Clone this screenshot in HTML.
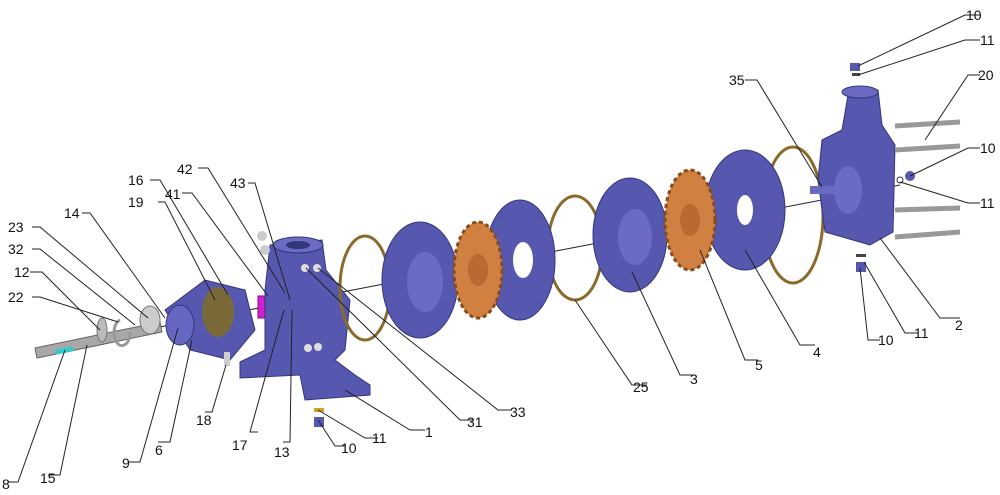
<!DOCTYPE html>
<html><head><style>
html,body{margin:0;padding:0;background:#fff;width:1000px;height:495px;overflow:hidden}
svg text{font-family:"Liberation Sans",sans-serif;font-size:14px;fill:#111}
</style></head><body>
<svg width="1000" height="495" viewBox="0 0 1000 495" xmlns="http://www.w3.org/2000/svg">
<line x1="40" y1="350" x2="900" y2="185" stroke="#222" stroke-width="1"/>
<polygon points="35,348 160,322 162,332 37,358" fill="#a8a8a8" stroke="#666"/>
<rect x="55" y="348" width="18" height="5" fill="#3cc" transform="rotate(-11 64 350)"/>
<ellipse cx="102" cy="330" rx="5" ry="12" fill="#bbb" stroke="#777"/>
<path d="M120,320 a8,13 0 1,0 10,12" fill="none" stroke="#999" stroke-width="3"/>
<ellipse cx="150" cy="320" rx="10" ry="14" fill="#ccc" stroke="#777"/>
<path d="M165,310 L205,280 L245,290 L255,330 L230,360 L190,350 Z" fill="#5658b0" stroke="#33367a"/>
<ellipse cx="180" cy="325" rx="14" ry="20" fill="#6466c0" stroke="#33367a"/>
<ellipse cx="218" cy="312" rx="16" ry="25" fill="#7a6a3a"/>
<rect x="224" y="352" width="6" height="14" fill="#ccc"/>
<rect x="258" y="296" width="22" height="22" fill="#d020d0" stroke="#900090"/>
<path d="M270,245 L322,240 L326,270 L350,300 L345,350 L335,360 L355,375 L370,385 L370,395 L305,400 L300,375 L240,378 L240,362 L265,350 L265,290 Z" fill="#5658b0" stroke="#33367a"/>
<ellipse cx="298" cy="245" rx="25" ry="8" fill="#6a6cc4" stroke="#33367a"/>
<ellipse cx="298" cy="245" rx="12" ry="4" fill="#33367a"/>
<circle cx="305" cy="268" r="4" fill="#ddd"/><circle cx="317" cy="268" r="4" fill="#ddd"/>
<circle cx="308" cy="348" r="4" fill="#ddd"/><circle cx="318" cy="347" r="4" fill="#ddd"/>
<circle cx="262" cy="236" r="5" fill="#ccc"/><circle cx="265" cy="250" r="5" fill="#ccc"/>
<rect x="314" y="408" width="10" height="4" fill="#d8a020"/>
<rect x="314" y="417" width="10" height="10" fill="#5658b0"/>
<ellipse cx="365" cy="288" rx="25" ry="52" fill="none" stroke="#8a6a2a" stroke-width="3"/>
<ellipse cx="575" cy="248" rx="27" ry="52" fill="none" stroke="#8a6a2a" stroke-width="3"/>
<ellipse cx="793" cy="215" rx="30" ry="68" fill="none" stroke="#8a6a2a" stroke-width="3"/>
<ellipse cx="420" cy="280" rx="38" ry="58" fill="#5658b0" stroke="#33367a"/>
<ellipse cx="425" cy="282" rx="18" ry="30" fill="#6a6cc4"/>
<ellipse cx="520" cy="260" rx="35" ry="60" fill="#5658b0" stroke="#33367a"/>
<ellipse cx="523" cy="260" rx="10" ry="18" fill="#fff"/>
<ellipse cx="630" cy="235" rx="37" ry="57" fill="#5658b0" stroke="#33367a"/>
<ellipse cx="635" cy="237" rx="17" ry="28" fill="#6a6cc4"/>
<ellipse cx="745" cy="210" rx="40" ry="60" fill="#5658b0" stroke="#33367a"/>
<ellipse cx="745" cy="210" rx="8" ry="15" fill="#fff"/>
<ellipse cx="478" cy="270" rx="24" ry="48" fill="#d08040" stroke="#8a4a1a" stroke-dasharray="4 3" stroke-width="3"/>
<ellipse cx="478" cy="270" rx="10" ry="16" fill="#b86a30"/>
<ellipse cx="690" cy="220" rx="25" ry="50" fill="#d08040" stroke="#8a4a1a" stroke-dasharray="4 3" stroke-width="3"/>
<ellipse cx="690" cy="220" rx="10" ry="16" fill="#b86a30"/>
<path d="M822,140 L842,130 L848,95 L878,90 L882,125 L895,145 L893,232 L870,245 L825,232 L818,180 Z" fill="#5658b0" stroke="#33367a"/>
<ellipse cx="860" cy="92" rx="18" ry="6" fill="#6a6cc4" stroke="#33367a"/>
<ellipse cx="848" cy="190" rx="14" ry="24" fill="#6a6cc4"/>
<rect x="810" y="186" width="30" height="8" fill="#6a6cc4"/>
<g stroke="#999" stroke-width="5">
<line x1="895" y1="126" x2="960" y2="122"/><line x1="895" y1="150" x2="960" y2="146"/>
<line x1="895" y1="210" x2="960" y2="208"/><line x1="895" y1="237" x2="960" y2="232"/>
</g>
<rect x="850" y="63" width="10" height="8" fill="#5658b0"/>
<rect x="852" y="73" width="8" height="3" fill="#444"/>
<circle cx="910" cy="176" r="5" fill="#5658b0"/><circle cx="900" cy="180" r="3" fill="none" stroke="#333"/>
<rect x="856" y="262" width="10" height="10" fill="#5658b0"/><rect x="856" y="254" width="10" height="3" fill="#444"/>
<g stroke="#222" fill="none" stroke-width="1">
<path d="M980,15 L965,15 L858,66"/><path d="M980,40 L965,40 L858,75"/>
<path d="M980,75 L968,75 L925,140"/><path d="M980,148 L968,148 L910,176"/>
<path d="M980,203 L968,203 L900,182"/><path d="M960,318 L940,318 L880,238"/>
<path d="M918,333 L905,333 L864,262"/><path d="M880,340 L868,340 L860,268"/>
<path d="M745,80 L757,80 L822,187"/><path d="M815,345 L800,345 L745,250"/>
<path d="M758,360 L745,360 L700,250"/><path d="M693,375 L680,375 L632,272"/>
<path d="M647,385 L632,385 L575,300"/><path d="M512,410 L498,410 L318,268"/>
<path d="M473,420 L460,420 L306,268"/><path d="M425,430 L410,430 L345,390"/>
<path d="M378,438 L365,438 L318,410"/><path d="M345,446 L335,446 L318,420"/>
<path d="M283,442 L290,442 L292,310"/><path d="M258,432 L250,432 L284,310"/>
<path d="M205,412 L212,412 L226,365"/><path d="M158,442 L170,442 L192,340"/>
<path d="M128,462 L140,462 L178,328"/><path d="M48,475 L60,475 L87,345"/>
<path d="M8,482 L18,482 L65,350"/><path d="M30,272 L42,272 L100,330"/>
<path d="M32,297 L40,297 L118,322"/><path d="M32,249 L40,249 L135,325"/>
<path d="M32,227 L40,227 L148,318"/><path d="M82,213 L90,213 L165,318"/>
<path d="M158,202 L165,202 L215,300"/><path d="M150,180 L160,180 L228,295"/>
<path d="M182,193 L192,193 L268,296"/><path d="M198,168 L208,168 L285,293"/>
<path d="M248,183 L255,183 L290,300"/>
</g>
<g>
<text x="966" y="20">10</text><text x="980" y="45">11</text><text x="978" y="80">20</text>
<text x="980" y="153">10</text><text x="980" y="208">11</text><text x="955" y="330">2</text>
<text x="914" y="338">11</text><text x="878" y="345">10</text><text x="729" y="85">35</text>
<text x="813" y="357">4</text><text x="755" y="370">5</text><text x="690" y="384">3</text>
<text x="633" y="392">25</text><text x="510" y="417">33</text><text x="467" y="427">31</text>
<text x="425" y="437">1</text><text x="372" y="443">11</text><text x="341" y="453">10</text>
<text x="274" y="457">13</text><text x="232" y="450">17</text><text x="196" y="425">18</text>
<text x="155" y="455">6</text><text x="122" y="468">9</text><text x="40" y="483">15</text>
<text x="2" y="489">8</text><text x="14" y="277">12</text><text x="8" y="302">22</text>
<text x="8" y="254">32</text><text x="8" y="232">23</text><text x="64" y="218">14</text>
<text x="128" y="207">19</text><text x="128" y="185">16</text><text x="165" y="199">41</text>
<text x="177" y="174">42</text><text x="230" y="188">43</text>
</g>
</svg>
</body></html>
